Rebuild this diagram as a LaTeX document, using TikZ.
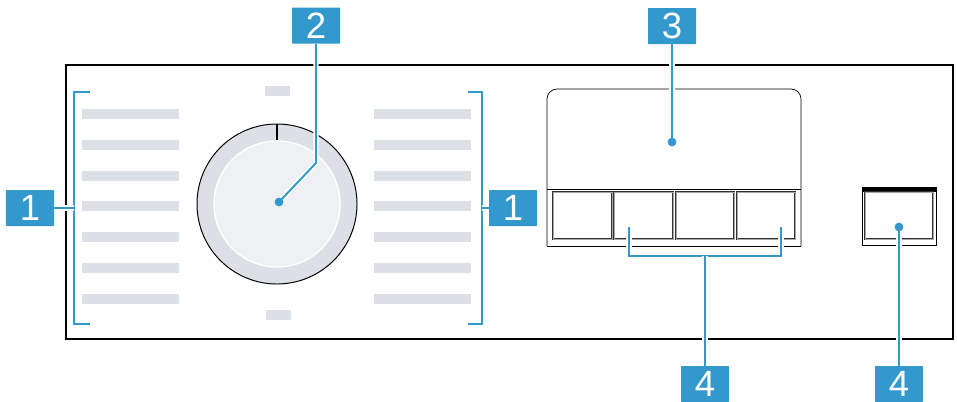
\documentclass[tikz,border=0pt]{standalone}
\usepackage{fontspec}
\setsansfont{Liberation Sans}
\usepackage{xcolor}
\definecolor{callblue}{RGB}{51,153,204}
\definecolor{bargray}{RGB}{220,223,230}
\definecolor{dialgray}{RGB}{238,240,244}
\tikzset{
	callout/.style={
			fill=callblue, text=white, rounded corners=0.5pt, inner sep=0pt,
			minimum width=12mm, minimum height=9mm,
			font=\sffamily\fontsize{26}{26}\selectfont
		},
	leader/.style={
			draw=callblue, line width=1.4pt,
			preaction={draw=white, line width=3.6pt}
		},
	bar/.style={fill=bargray, draw=none},
	keybox/.style={draw=black!80, line width=0.35pt, double=black!35, double distance=0.35pt}
}

\begin{document}
\begin{tikzpicture}[x=0.25mm, y=-0.25mm]
        \useasboundingbox (0,0) rectangle (957,401);
        % panel
        \draw[line width=0.6mm] (66,65) rectangle (953,339);
        \foreach \i in {0,...,6} {
            \fill[bar] (82,114+30.8*\i-5) rectangle (179,114+30.8*\i+5);
            \fill[bar] (374,114+30.8*\i-5) rectangle (471,114+30.8*\i+5);
        }
        \fill[bar] (265,86) rectangle (290,96);
        \fill[bar] (266,310) rectangle (291,320);
        % dial
        \node[circle, draw=black, line width=0.7pt, fill=bargray, minimum size=40mm, inner sep=0pt] (ring) at (277,204) {};
        \node[circle, draw=white, line width=1pt, fill=dialgray, minimum size=31.5mm, inner sep=0pt] (knob) at (277,204) {};
        \draw[line width=1pt] (ring.north) -- (knob.north);
        % display
        \draw[line width=0.5pt, rounded corners=2.5mm] (547,246) -- (547,89) -- (801,89) -- (801,246);
        \draw[line width=0.5pt] (547,246) -- (801,246) (547,189) -- (801,189);
        \foreach \x/\w in {553/612, 614/673, 676/734, 737/795}
            \draw[keybox] (\x,192) rectangle (\w,239);
        % single key
        \draw[line width=0.4pt] (862,187) rectangle (936,245);
        \fill (862,187) rectangle (936,192);
        \draw[keybox] (865,192) rectangle (933,239);
        % callouts
        \node[callout] (one) at (30,208) {1};
        \node[callout] (oneR) at (513,208) {1};
        \node[callout] (two) at (316,25.5) {2};
        \node[callout] (three) at (672,26) {3};
        \node[callout] (fourA) at (705,384) {4};
        \node[callout] (fourB) at (899,384) {4};
        \coordinate (center) at (279,202);
        \coordinate (screen) at (672,142);
        \coordinate (onekey) at (899,227);
        % leaders
        \draw[leader] (90,92) -- (74,92) -- (74,324) -- (90,324);
        \draw[leader] (one.east) -- (74,208);
        \draw[leader] (468,92) -- (482,92) -- (482,324) -- (468,324);
        \draw[leader] (482,208) -- (oneR.west);
        \draw[leader] (two.south) -- (316,163) -- (center);
        \draw[leader] (three.south) -- (screen);
        \draw[leader] (629,227) -- (629,256) -- (781,256) -- (781,227);
        \draw[leader] (705,256) -- (fourA.north);
        \draw[leader] (onekey) -- (fourB.north);
        \foreach \p in {center, screen, onekey}
            \fill[callblue] (\p) circle[radius=1.1mm];
    \end{tikzpicture}
\end{document}
